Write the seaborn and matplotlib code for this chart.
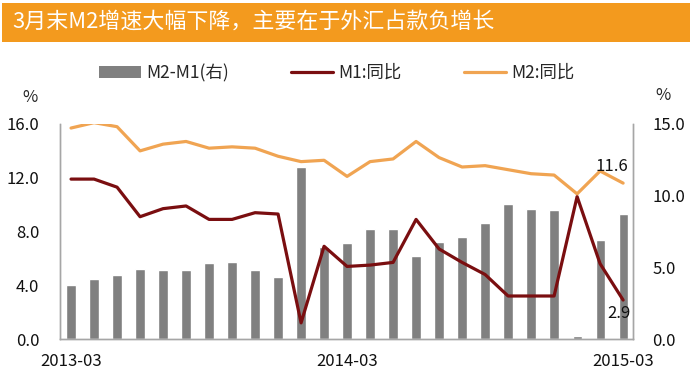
import numpy as np
import pandas as pd
import matplotlib
matplotlib.use("Agg")
import matplotlib.pyplot as plt
import seaborn as sns
from matplotlib.patches import Rectangle, Patch
from matplotlib.lines import Line2D

sns.set_style("white")
plt.rcParams['font.family'] = ['Noto Sans CJK SC', 'DejaVu Sans']

months = pd.period_range("2013-03", "2015-03", freq="M").strftime("%Y-%m").tolist()
m1 = [11.9, 11.9, 11.3, 9.1, 9.7, 9.9, 8.9, 8.9, 9.4, 9.3, 1.2, 6.9, 5.4,
      5.5, 5.7, 8.9, 6.7, 5.7, 4.8, 3.2, 3.2, 3.2, 10.6, 5.6, 2.9]
m2 = [15.7, 16.1, 15.8, 14.0, 14.5, 14.7, 14.2, 14.3, 14.2, 13.6, 13.2, 13.3, 12.1,
      13.2, 13.4, 14.7, 13.5, 12.8, 12.9, 12.6, 12.3, 12.2, 10.8, 12.5, 11.6]
gap = [3.8, 4.2, 4.5, 4.9, 4.8, 4.8, 5.3, 5.4, 4.8, 4.3, 12.0, 6.4, 6.7,
       7.7, 7.7, 5.8, 6.8, 7.1, 8.1, 9.4, 9.1, 9.0, 0.2, 6.9, 8.7]
tick_labels = ["2013-03", "2014-03", "2015-03"]

df = pd.DataFrame({"month": months, "idx": np.arange(len(months)),
                   "M1": m1, "M2": m2, "gap": gap})

bar_c = "#808080"
m1_c = "#7A0E10"
m2_c = "#F0A452"
spine_c = "#A6A6A6"

fig = plt.figure(figsize=(6.93, 3.79), dpi=100)
ax = fig.add_axes([60/693, 1-339/379, 573/693, 215/379])
ax2 = ax.twinx()

sns.barplot(data=df, x="month", y="gap", color=bar_c, width=0.4, ax=ax2,
            saturation=1)
sns.lineplot(data=df, x="idx", y="M1", color=m1_c, lw=2.3, ax=ax)
sns.lineplot(data=df, x="idx", y="M2", color=m2_c, lw=2.3, ax=ax)

# lines above bars
ax.set_zorder(ax2.get_zorder() + 1)
ax.patch.set_visible(False)

ax.set_xlim(-0.48, 24.43)
ax.set_ylim(0, 16)
ax2.set_ylim(0, 15)
ax.set_yticks([0, 4, 8, 12, 16])
ax.set_yticklabels([f"{v:.1f}" for v in [0, 4, 8, 12, 16]])
ax2.set_yticks([0, 5, 10, 15])
ax2.set_yticklabels([f"{v:.1f}" for v in [0, 5, 10, 15]])
for a in (ax, ax2):
    a.set_xlabel("")
    a.set_ylabel("")
    a.tick_params(length=0, labelsize=12, colors="#111111")
    a.spines["top"].set_visible(False)
    for s in ("left", "right", "bottom"):
        a.spines[s].set_color(spine_c)
        a.spines[s].set_linewidth(1.0)
ax.set_xticks([0, 12, 24])
ax.set_xticklabels(tick_labels)
ax.tick_params(axis="y", pad=15)
ax2.tick_params(axis="y", pad=14)
ax.tick_params(axis="x", pad=10)

ax.annotate("11.6", (24, 11.6), xytext=(-8, 12), textcoords="offset points",
            ha="center", va="center", fontsize=12, color="#111111")
ax.annotate("2.9", (24, 2.9), xytext=(-3, -10), textcoords="offset points",
            ha="center", va="center", fontsize=12, color="#111111")

fig.text(30/693, 1-98/379, "%", ha="center", va="center", fontsize=12)
fig.text(663/693, 1-95/379, "%", ha="center", va="center", fontsize=12)

# title banner
fig.add_artist(Rectangle((2/693, 1-42/379), 688/693, 39/379, transform=fig.transFigure,
                         facecolor="#F39A1E", edgecolor="none"))
fig.text(12/693, 1-22/379, "3月末M2增速大幅下降，主要在于外汇占款负增长",
         ha="left", va="center", fontsize=15.8, color="white")

handles = [Patch(facecolor=bar_c, edgecolor="none"),
           Line2D([], [], color=m1_c, lw=2.3),
           Line2D([], [], color=m2_c, lw=2.3)]
fig.legend(handles, ["M2-M1(右)", "M1:同比", "M2:同比"], ncol=3,
           loc="center", bbox_to_anchor=(0.486, 1-73/379), frameon=False,
           fontsize=12.5, handlelength=2.4, handleheight=0.7, handletextpad=0.3,
           columnspacing=3.6)

fig.savefig("out.png", dpi=100)
